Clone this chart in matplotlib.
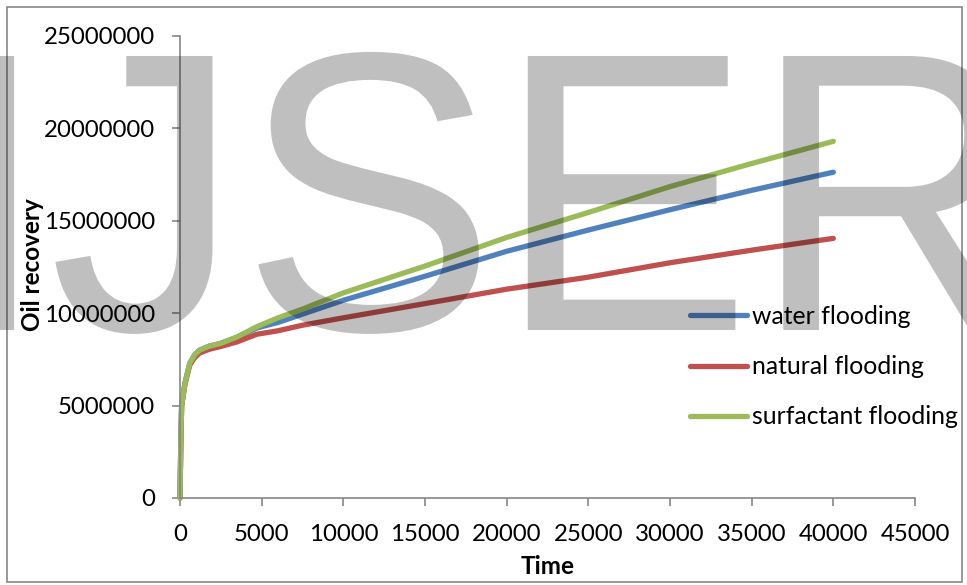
import matplotlib
matplotlib.use("Agg")
import matplotlib.pyplot as plt
from matplotlib.patches import Rectangle, PathPatch
from matplotlib.textpath import TextPath
from matplotlib.font_manager import FontProperties
from matplotlib.transforms import Affine2D, IdentityTransform

# simulation output: cumulative oil recovery vs time
time = [0, 50, 100, 300, 600, 900, 1200, 1800, 2500, 3500, 4700, 6000, 7500,
        10000, 15000, 20000, 25000, 30000, 35000, 40000]
water = [0, 3.0e6, 5.0e6, 6.2e6, 7.3e6, 7.75e6, 8.0e6, 8.22e6, 8.37e6, 8.7e6, 9.2e6,
         9.5e6, 9.95e6, 10.7e6, 12.0e6, 13.35e6, 14.5e6, 15.6e6, 16.65e6, 17.63e6]
natural = [0, 3.0e6, 5.0e6, 6.15e6, 7.2e6, 7.6e6, 7.85e6, 8.05e6, 8.2e6, 8.45e6, 8.86e6,
           9.05e6, 9.35e6, 9.75e6, 10.52e6, 11.3e6, 11.95e6, 12.73e6, 13.41e6, 14.05e6]
surfactant = [0, 3.0e6, 5.0e6, 6.2e6, 7.3e6, 7.75e6, 8.0e6, 8.22e6, 8.37e6, 8.72e6, 9.27e6,
              9.75e6, 10.22e6, 11.1e6, 12.55e6, 14.1e6, 15.45e6, 16.85e6, 18.1e6, 19.3e6]

labels = ["water flooding", "natural flooding", "surfactant flooding"]
colors = ["#4F81BD", "#C0504D", "#9BBB59"]
xticks = list(range(0, 45001, 5000))
yticks = list(range(0, 25000001, 5000000))

plt.rcParams["font.family"] = ["Lato", "DejaVu Sans"]

W, H = 967, 585
fig = plt.figure(figsize=(W / 100, H / 100), dpi=100)
ax = fig.add_axes([180 / W, 1 - 498 / H, 735 / W, 462 / H])

for y, lab, c in zip([water, natural, surfactant], labels, colors):
    ax.plot(time, y, color=c, lw=3.8, label=lab, solid_capstyle="round",
            solid_joinstyle="round", clip_on=False)

ax.set_xlim(0, 45000)
ax.set_ylim(0, 25000000)
ax.set_xticks(xticks)
ax.set_yticks(yticks)
ax.set_xticklabels([str(v) for v in xticks])
ax.set_yticklabels([str(v) for v in yticks])

for s in ["top", "right"]:
    ax.spines[s].set_visible(False)
for s in ["left", "bottom"]:
    ax.spines[s].set_color("#868686")
    ax.spines[s].set_linewidth(1.2)
ax.tick_params(axis="both", direction="out", length=6, width=1.2, color="#868686",
               labelsize=17.3, labelcolor="black")
ax.tick_params(axis="y", pad=12)
ax.tick_params(axis="x", pad=13)

ax.set_xlabel("Time", fontsize=17.5, fontweight="bold")
ax.xaxis.set_label_coords(548 / W, 1 - 566 / H, transform=fig.transFigure)
ax.xaxis.label.set_va("center")
ax.set_ylabel("Oil recovery", fontsize=17.5, fontweight="bold")
ax.yaxis.set_label_coords(33 / W, 1 - 265 / H, transform=fig.transFigure)
ax.yaxis.label.set_va("center")

ax.legend(loc="upper left", bbox_to_anchor=(690 / W, 1 - 305 / H),
          bbox_transform=fig.transFigure, frameon=False, fontsize=17.8,
          handlelength=2.3, handletextpad=0.2, labelspacing=1.1,
          borderpad=0, borderaxespad=0)

# outer chart frame
fig.patches.append(Rectangle((7 / W, 3 / H), 955 / W, 575 / H, transform=fig.transFigure,
                             fill=False, edgecolor="#888888", lw=1.2))

# journal watermark over the chart (pixel coordinates, slightly stretched vertically)
wm = TextPath((0, 0), "IJSER", size=383, prop=FontProperties(family="Liberation Sans"))
wm_tr = Affine2D().scale(1.0, 1.04).translate(-57, H - 330) + IdentityTransform()
fig.add_artist(PathPatch(wm, transform=wm_tr, facecolor="black", edgecolor="none",
                         alpha=0.25, zorder=10))

fig.savefig("out.png", dpi=100)
